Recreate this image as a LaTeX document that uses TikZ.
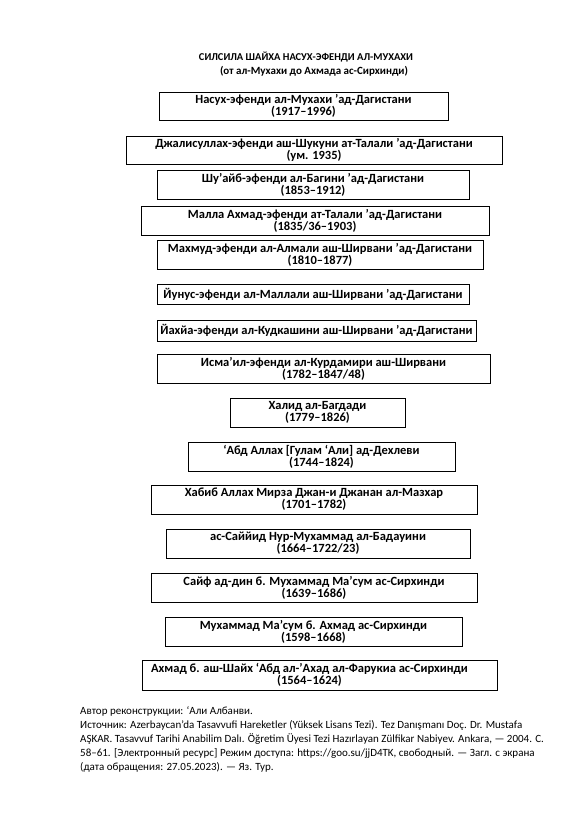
\documentclass[tikz,border=0pt]{standalone}
\usepackage{fontspec}
\setmainfont{Carlito}
\tikzset{
  bx/.style={draw=black, line width=0.9pt, inner sep=0pt, align=center,
    font=\bfseries\fontsize{12.5}{12.2}\selectfont},
  ttl/.style={inner sep=0pt, align=center, font=\bfseries\fontsize{10.5}{12}\selectfont},
  foot/.style={inner sep=0pt, align=left, anchor=north west, font=\fontsize{11}{14}\selectfont}
}
\begin{document}
\begin{tikzpicture}[x=1pt,y=-1pt]
\useasboundingbox[fill=white] (0,0) rectangle (585,816);
\node[ttl] (t1) at (306,57) {СИЛСИЛА ШАЙХА НАСУХ-ЭФЕНДИ АЛ-МУХАХИ};
\node[ttl, font=\bfseries\fontsize{11}{12}\selectfont] (t2) at (314,71) {(от ал-Мухахи до Ахмада ас-Сирхинди)};
\node[bx, minimum width=289pt, minimum height=28pt] (b1) at (303.5,106) {Насух-эфенди ал-Мухахи ’ад-Дагистани\\(1917–1996)};
\node[bx, minimum width=376pt, minimum height=28pt] (b2) at (314,150) {Джалисуллах-эфенди аш-Шукуни ат-Талали ’ад-Дагистани\\(ум. 1935)};
\node[bx, minimum width=312pt, minimum height=29pt] (b3) at (313,184.5) {Шу’айб-эфенди ал-Багини ’ад-Дагистани\\(1853–1912)};
\node[bx, minimum width=348pt, minimum height=29pt] (b4) at (315,220.5) {Малла Ахмад-эфенди ат-Талали ’ад-Дагистани\\(1835/36–1903)};
\node[bx, minimum width=326pt, minimum height=29pt] (b5) at (320,254.5) {Махмуд-эфенди ал-Алмали аш-Ширвани ’ад-Дагистани\\(1810–1877)};
\node[bx, minimum width=312pt, minimum height=20pt] (b6) at (313,294) {Йунус-эфенди ал-Маллали аш-Ширвани ’ад-Дагистани};
\node[bx, minimum width=319pt, minimum height=21pt] (b7) at (316.5,330.5) {Йахйа-эфенди ал-Кудкашини аш-Ширвани ’ад-Дагистани};
\node[bx, minimum width=333pt, minimum height=29pt] (b8) at (323.5,368.5) {Исма’ил-эфенди ал-Курдамири аш-Ширвани\\(1782–1847/48)};
\node[bx, minimum width=175pt, minimum height=29pt] (b9) at (317.5,412.5) {Халид ал-Багдади\\(1779–1826)};
\node[bx, minimum width=267pt, minimum height=29pt] (b10) at (321.5,456.5) {‘Абд Аллах [Гулам ‘Али] ад-Дехлеви\\(1744–1824)};
\node[bx, minimum width=326pt, minimum height=29pt] (b11) at (314,499.5) {Хабиб Аллах Мирза Джан-и Джанан ал-Мазхар\\(1701–1782)};
\node[bx, minimum width=304pt, minimum height=29pt] (b12) at (318,543.5) {ас-Саййид Нур-Мухаммад ал-Бадауини\\(1664–1722/23)};
\node[bx, minimum width=326pt, minimum height=29pt] (b13) at (314,587.5) {Сайф ад-дин б. Мухаммад Ма’сум ас-Сирхинди\\(1639–1686)};
\node[bx, minimum width=297pt, minimum height=29pt] (b14) at (313.5,631.5) {Мухаммад Ма’сум б. Ахмад ас-Сирхинди\\(1598–1668)};
\node[bx, minimum width=355pt, minimum height=30pt] (b15) at (319.5,675) {Ахмад б. аш-Шайх ‘Абд ал-’Ахад ал-Фарукиа ас-Сирхинди\hspace*{20pt}\\(1564–1624)\hspace*{20pt}};
\node[foot] (f) at (80,706) {Автор реконструкции: ‘Али Албанви.\\
Источник: Azerbaycan’da Tasavvufi Hareketler (Yüksek Lisans Tezi). Tez Danışmanı Doç. Dr. Mustafa\\
AŞKAR. Tasavvuf Tarihi Anabilim Dalı. Öğretim Üyesi Tezi Hazırlayan Zülfikar Nabiyev. Ankara, — 2004. С.\\
58–61. [Электронный ресурс] Режим доступа: https://goo.su/jjD4TK, свободный. — Загл. с экрана\\
(дата обращения: 27.05.2023). — Яз. Тур.};
\end{tikzpicture}
\end{document}
